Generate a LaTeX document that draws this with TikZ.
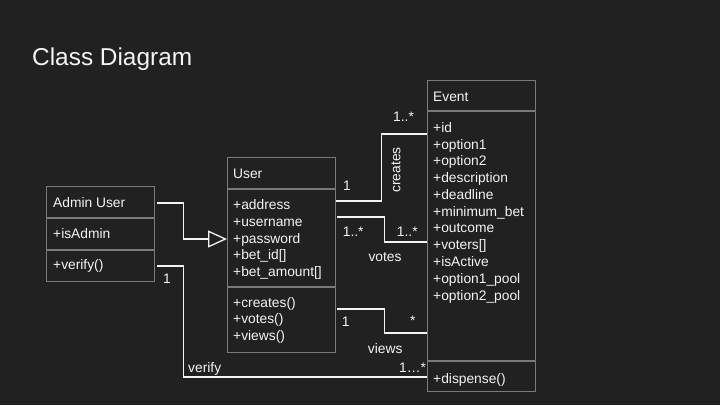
\documentclass[tikz,border=0pt]{standalone}
\usepackage{fontspec}
\setmainfont{Liberation Sans}
\usetikzlibrary{arrows.meta,calc}
\definecolor{bg}{HTML}{212121}
\definecolor{fg}{HTML}{F4F4F4}
\definecolor{edge}{HTML}{7A7A7A}
\begin{document}
\begin{tikzpicture}[x=1pt,y=-1pt,
  txt/.style={anchor=base west, inner sep=0pt, text=fg, font=\fontsize{13.8}{16}\selectfont},
  classbox/.style={draw=edge, line width=1.3pt, anchor=north west, inner sep=0pt, minimum width=108pt},
  divider/.style={draw=edge, line width=1.3pt},
  conn/.style={draw=fg, line width=1.3pt},
  gen/.style={conn, -{Triangle[open, length=19pt, width=17pt, line width=1.3pt]}}
]
% canvas
\fill[bg] (0,0) rectangle (720,405);
\useasboundingbox (0,0) rectangle (720,405);

% title
\node[txt, font=\fontsize{24.4}{28}\selectfont] (title) at (32,65) {Class Diagram};

% Admin User class
\node[classbox, minimum height=95pt] (admin) at (46,186) {};
\draw[divider] ($(admin.north west)+(0,32)$) -- ($(admin.north east)+(0,32)$);
\draw[divider] ($(admin.north west)+(0,64)$) -- ($(admin.north east)+(0,64)$);
\node[txt] (aname) at (53,207.7) {Admin User};
\node[txt] (aattr) at (53,238.3) {+isAdmin};
\node[txt] (aop) at (53,269.5) {+verify()};

% User class
\node[classbox, minimum height=195pt] (user) at (227,157) {};
\draw[divider] ($(user.north west)+(0,32)$) -- ($(user.north east)+(0,32)$);
\draw[divider] ($(user.north west)+(0,130)$) -- ($(user.north east)+(0,130)$);
\node[txt] (uname) at (233,178.3) {User};
\foreach \t [count=\i from 0] in {+address,+username,+password,+bet\_id[],+bet\_amount[]}
  \node[txt] (ua\i) at (233,209.3+16.85*\i) {\t};
\foreach \t [count=\i from 0] in {+creates(),+votes(),+views()}
  \node[txt] (uo\i) at (233,307.3+16.5*\i) {\t};

% Event class
\node[classbox, minimum height=311pt] (event) at (427,80) {};
\draw[divider] ($(event.north west)+(0,31)$) -- ($(event.north east)+(0,31)$);
\draw[divider] ($(event.north west)+(0,281)$) -- ($(event.north east)+(0,281)$);
\node[txt] (ename) at (433,101) {Event};
\foreach \t [count=\i from 0] in {+id,+option1,+option2,+description,+deadline,+minimum\_bet,+outcome,+voters[],+isActive,+option1\_pool,+option2\_pool}
  \node[txt] (ea\i) at (433,132.3+16.77*\i) {\t};
\node[txt] (eop) at (433,383) {+dispense()};

% generalization: Admin User -> User
\draw[gen] ($(admin.north east)+(2,17)$) -- ++(26,0) |- ($(user.north west)+(0,82)$);

% verify
\draw[conn] ($(admin.north east)+(2,80)$) -- ++(26,0) |- ($(event.north west)+(0,297)$);
\node[txt] (vm1) at (163,283.3) {1};
\node[txt] (vlbl) at (188,372.5) {verify};
\node[txt] (vm2) at (399,372.7) {1…*};

% creates
\draw[conn] ($(user.north east)+(0,44)$) -- ++(45,0) |- ($(event.north west)+(0,54)$);
\node[txt] (cm1) at (343,190) {1};
\node[txt] (cm2) at (393,121.7) {1..*};
\node[txt, anchor=center, rotate=90] (clbl) at (396,170) {creates};

% votes
\draw[conn] ($(user.north east)+(1,60)$) -- ++(47,0) |- ($(event.north west)+(0,162)$);
\node[txt] (om1) at (342.7,236) {1..*};
\node[txt] (om2) at (396.7,236) {1..*};
\node[txt] (olbl) at (368.3,261.7) {votes};

% views
\draw[conn] ($(user.north east)+(1,152)$) -- ++(47,0) |- ($(event.north west)+(0,253)$);
\node[txt] (wm1) at (341.7,326) {1};
\node[txt] (wm2) at (410,325) {*};
\node[txt] (wlbl) at (367.7,353.3) {views};
\end{tikzpicture}
\end{document}
